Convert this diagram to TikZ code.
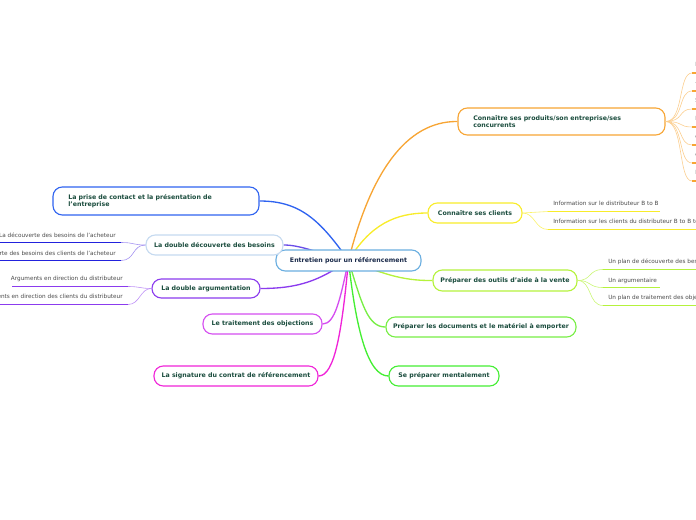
\documentclass[tikz,border=0pt]{standalone}
\usepackage{fontspec}
\setmainfont{DejaVu Sans}
\usetikzlibrary{backgrounds,calc}
\definecolor{txt}{HTML}{1B4D3E}
\definecolor{ctxt}{HTML}{1A2A4A}
\definecolor{subtxt}{HTML}{4A4A4A}
\definecolor{corange}{HTML}{F7A534}
\definecolor{cyellow}{HTML}{F8EC2A}
\definecolor{cygreen}{HTML}{B5F23C}
\definecolor{cgreenA}{HTML}{77EE44}
\definecolor{cgreenB}{HTML}{44EE33}
\definecolor{cblue}{HTML}{2F63F0}
\definecolor{clblue}{HTML}{C5DAF0}
\definecolor{cdblue}{HTML}{2222DD}
\definecolor{cpblue}{HTML}{6A4DE8}
\definecolor{cpurple}{HTML}{8B3BEE}
\definecolor{cmagenta}{HTML}{D54EF0}
\definecolor{cpink}{HTML}{F024D8}
\definecolor{ccentral}{HTML}{6AAEE0}
\tikzset{
  topic/.style={draw, line width=0.85pt, fill=white, rounded corners=7pt, inner sep=0pt,
    font=\fontsize{4.7}{5.6}\selectfont\bfseries, text=txt, align=center},
  subtext/.style={inner sep=0pt, font=\fontsize{4.3}{5}\selectfont, text=subtxt},
  edge/.style={line width=1pt},
  subedge/.style={line width=0.45pt},
  uline/.style={line width=1.3pt},
}
\begin{document}
\begin{tikzpicture}[x=0.75pt,y=-0.75pt]
\useasboundingbox (0,0) rectangle (696,520);
% nodes
\node[topic, draw=ccentral, text=ctxt, minimum width=145*0.75pt, minimum height=21*0.75pt] (c) at (348.5,260.5) {Entretien pour un référencement};
\node[topic, draw=corange, minimum width=207*0.75pt, minimum height=27*0.75pt, text width=191*0.75pt, align=left] (o) at (561.5,121.5) {\hspace*{5.5pt}Connaître ses produits/son entreprise/ses\\\hspace*{5.5pt}concurrents};
\node[topic, draw=cyellow, minimum width=94*0.75pt, minimum height=20*0.75pt] (y) at (475,213) {Connaître ses clients};
\node[topic, draw=cygreen, minimum width=144*0.75pt, minimum height=21*0.75pt] (yg) at (505,280.5) {Préparer des outils d'aide à la vente};
\node[topic, draw=cgreenA, minimum width=190*0.75pt, minimum height=20*0.75pt] (g1) at (481,327) {Préparer les documents et le matériel à emporter};
\node[topic, draw=cgreenB, minimum width=110*0.75pt, minimum height=20*0.75pt] (g2) at (444,376) {Se préparer mentalement};
\node[topic, draw=cblue, minimum width=206*0.75pt, minimum height=28*0.75pt, text width=190*0.75pt, align=left] (b) at (156,201) {\hspace*{5.5pt}La prise de contact et la présentation de\\\hspace*{5.5pt}l'entreprise};
\node[topic, draw=clblue, minimum width=137*0.75pt, minimum height=20*0.75pt] (lb) at (214.5,245) {La double découverte des besoins};
\node[topic, draw=cpurple, minimum width=108*0.75pt, minimum height=19*0.75pt] (p) at (206,288.5) {La double argumentation};
\node[topic, draw=cmagenta, minimum width=119*0.75pt, minimum height=20*0.75pt] (m) at (262.5,324) {Le traitement des objections};
\node[topic, draw=cpink, minimum width=164*0.75pt, minimum height=20*0.75pt] (pk) at (236,376) {La signature du contrat de référencement};

% sub topics : yellow
\node[subtext, anchor=base west] (y1) at (553,206) {Information sur le distributeur B to B};
\node[subtext, anchor=base west] (y2) at (553,224) {Information sur les clients du distributeur B to B to B};
\coordinate (y1a) at (548,211.5); \coordinate (y1b) at (660,211.5);
\coordinate (y2a) at (548,229.5); \coordinate (y2b) at (700,229.5);
% sub topics : yellow-green
\node[subtext, anchor=base west] (yg1) at (608,264) {Un plan de découverte des besoins};
\node[subtext, anchor=base west] (yg2) at (608,282) {Un argumentaire};
\node[subtext, anchor=base west] (yg3) at (608,300) {Un plan de traitement des objections};
\coordinate (yg1a) at (603,269.5); \coordinate (yg1b) at (700,269.5);
\coordinate (yg2a) at (603,287.5); \coordinate (yg2b) at (660,287.5);
\coordinate (yg3a) at (603,305.5); \coordinate (yg3b) at (700,305.5);
% sub topics : left, besoins
\node[subtext, anchor=base east] (lb1) at (116,238) {La découverte des besoins de l'acheteur};
\node[subtext, anchor=base east] (lb2) at (116,256) {La découverte des besoins des clients de l'acheteur};
\coordinate (lb1a) at (121,242.5); \coordinate (lb1b) at (0,242.5);
\coordinate (lb2a) at (121,260.5); \coordinate (lb2b) at (0,260.5);
% sub topics : left, argumentation
\node[subtext, anchor=base east] (p1) at (123,281) {Arguments en direction du distributeur};
\node[subtext, anchor=base east] (p2) at (123,299) {Arguments en direction des clients du distributeur};
\coordinate (p1a) at (128,286.5); \coordinate (p1b) at (12,286.5);
\coordinate (p2a) at (128,304.5); \coordinate (p2b) at (0,304.5);

\begin{scope}[on background layer]
% main connectors
\draw[edge, corange] (c.center) .. controls (370,175) and (405,121) .. (o.west);
\draw[edge, cyellow] (c.center) .. controls (370,225) and (395,213) .. (y.west);
\draw[edge, cygreen] (c.center) .. controls (380,272) and (400,281) .. (yg.west);
\draw[edge, cgreenA] (c.center) .. controls (362,305) and (368,327) .. (g1.west);
\draw[edge, cgreenB] (c.center) .. controls (356,330) and (368,376) .. (g2.west);
\draw[edge, cblue] (c.center) .. controls (320,220) and (300,201) .. (b.east);
\draw[edge, cpblue] (c.center) .. controls (315,252) and (300,245) .. (lb.east);
\draw[edge, cpurple] (c.center) .. controls (320,280) and (300,288.5) .. (p.east);
\draw[edge, cmagenta] (c.center) .. controls (340,300) and (335,324) .. (m.east);
\draw[edge, cpink] (c.center) .. controls (342,330) and (335,376) .. (pk.east);
\end{scope}

% yellow sub
\draw[subedge, cyellow!70] (y.east) .. controls (535,213) and (535,211.5) .. (y1a);
\draw[subedge, cyellow!70] (y.east) .. controls (535,213) and (535,229.5) .. (y2a);
\draw[uline, cyellow] (y1a) -- (y1b);
\draw[uline, cyellow] (y2a) -- (y2b);
% yellow-green sub
\draw[subedge, cygreen!70] (yg.east) .. controls (592,280.5) and (588,269.5) .. (yg1a);
\draw[subedge, cygreen!70] (yg.east) .. controls (592,280.5) and (588,287.5) .. (yg2a);
\draw[subedge, cygreen!70] (yg.east) .. controls (592,280.5) and (588,305.5) .. (yg3a);
\draw[uline, cygreen] (yg1a) -- (yg1b);
\draw[uline, cygreen] (yg2a) -- (yg2b);
\draw[uline, cygreen] (yg3a) -- (yg3b);
% left besoins sub
\draw[subedge, cpblue!60] (lb.west) .. controls (132,245) and (135,242.5) .. (lb1a);
\draw[subedge, cpblue!60] (lb.west) .. controls (132,245) and (135,260.5) .. (lb2a);
\draw[uline, cdblue] (lb1a) -- (lb1b);
\draw[uline, cdblue] (lb2a) -- (lb2b);
% left argumentation sub
\draw[subedge, cpurple!55] (p.west) .. controls (140,288.5) and (140,286.5) .. (p1a);
\draw[subedge, cpurple!55] (p.west) .. controls (140,288.5) and (140,304.5) .. (p2a);
\draw[uline, cpurple] (p1a) -- (p1b);
\draw[uline, cpurple] (p2a) -- (p2b);
% orange sub (cut at the right edge)
\foreach \i/\t in {1/I,2/-,3/S,4/I,5/e,6/e,7/I}{
  \pgfmathsetmacro{\yl}{73+18*(\i-1)}
  \pgfmathsetmacro{\yt}{\yl-6}
  \node[subtext, anchor=base west] (o\i) at (695,\yt) {\t};
  \coordinate (o\i a) at (692,\yl);
  \coordinate (o\i b) at (700,\yl);
  \draw[subedge, corange!55] (o.east) .. controls (684,121.5) and (678,\yl) .. (o\i a);
  \draw[uline, corange] (o\i a) -- (o\i b);
}
\end{tikzpicture}
\end{document}
